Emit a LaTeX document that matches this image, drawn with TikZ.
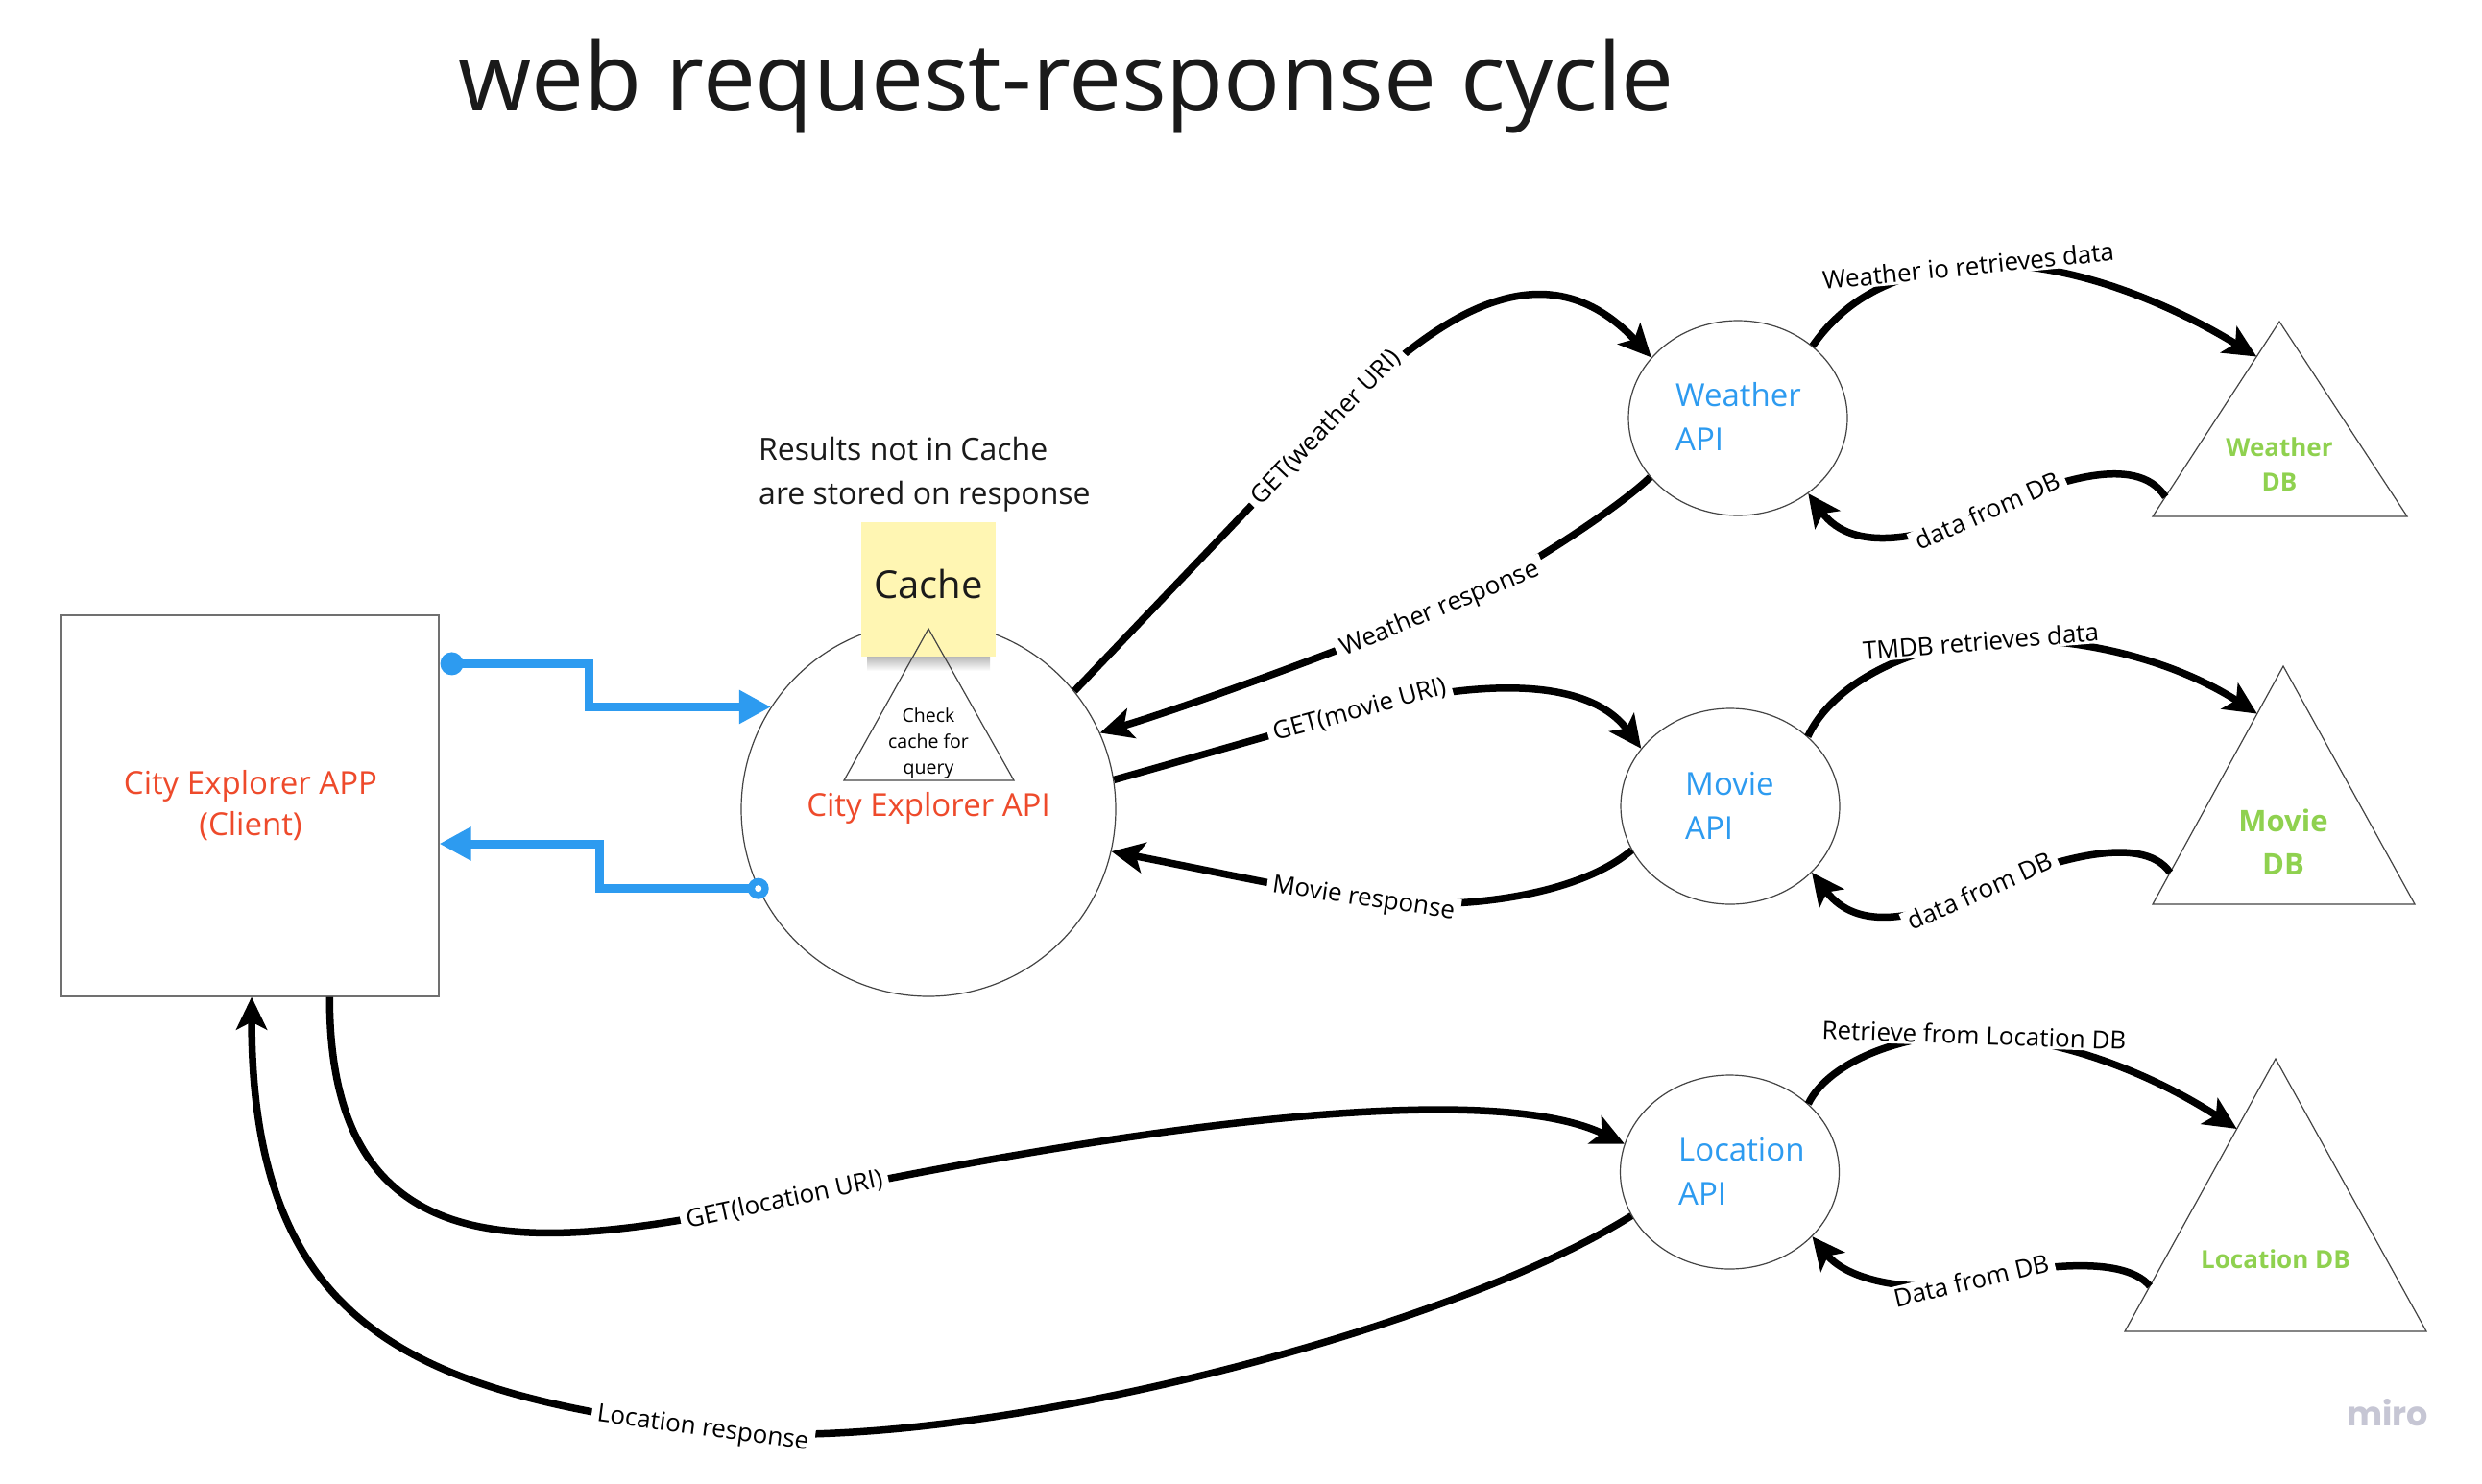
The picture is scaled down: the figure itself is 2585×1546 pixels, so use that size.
\documentclass[tikz,border=0pt]{standalone}
\usepackage{fontspec}
\setmainfont{Open Sans}
\newfontfamily\mirofont{Poppins}
\usetikzlibrary{arrows.meta,shapes.geometric,calc}
\definecolor{mblue}{HTML}{2D9BF0}
\definecolor{mred}{HTML}{EE4A2B}
\definecolor{mgreen}{HTML}{8FD14F}
\definecolor{stickyfill}{HTML}{FFF6B3}
\definecolor{titlegray}{HTML}{1A1A1A}
\definecolor{outline}{HTML}{444444}
\definecolor{rectline}{HTML}{707070}
\definecolor{mirogray}{HTML}{C6C6D4}
\newcommand{\myfs}[1]{\fontsize{#1pt}{#1pt}\selectfont}
\begin{document}
\begin{tikzpicture}[x=1pt,y=-1pt,
  conn/.style={line width=7.5pt, -{Stealth[length=34pt,width=32pt,inset=8pt]}},
  lbl/.style={fill=white, inner xsep=6pt, inner ysep=2pt, sloped, font=\myfs{26}, text=black},
  bluecon/.style={line width=9pt, mblue, -{Triangle[length=33pt,width=33pt]}},
  shapeline/.style={draw=outline, line width=1.2pt},
  txt/.style={inner sep=0pt},
  apitxt/.style={txt, anchor=base west, text=mblue, font=\myfs{33}},
  dbtxt/.style={txt, anchor=base, text=mgreen},
]
\fill[white] (0,0) rectangle (2585,1546);
\useasboundingbox (0,0) rectangle (2585,1546);

% title
\node[txt, anchor=base west, text=titlegray, font=\myfs{98}] (title) at (477,116) {web request-response cycle};

% client
\node[draw=rectline, line width=1.1pt, minimum width=393pt, minimum height=397pt, inner sep=0pt] (client) at (260.5,839.5) {};
\node[txt, anchor=base, text=mred, font=\myfs{33}] (clientT1) at (261,827) {City Explorer APP};
\node[txt, anchor=base, text=mred, font=\myfs{33}] (clientT2) at (261,870) {(Client)};

% City Explorer API
\node[circle, shapeline, minimum size=390pt, inner sep=0pt] (api) at (967,843) {};

% sticky note
\shade[top color=black!55, bottom color=white, opacity=0.5] (903,684) rectangle (1031,699);
\node[fill=stickyfill, minimum width=140pt, minimum height=140pt, inner sep=0pt] (cache) at (967,614) {};
\node[txt, anchor=base, font=\myfs{40}, text=titlegray] (cacheT) at (967,623) {Cache};

% check cache triangle
\coordinate (ckA) at (967,655);
\coordinate (ckL) at (879,813);
\coordinate (ckR) at (1056,813);
\draw[shapeline] (ckA) -- (ckR) -- (ckL) -- cycle;
\node[txt, anchor=base, font=\myfs{19.5}] (ck1) at (967,752) {Check};
\node[txt, anchor=base, font=\myfs{19.5}] (ck2) at (967,779) {cache for};
\node[txt, anchor=base, font=\myfs{19.5}] (ck3) at (967,806) {query};
\node[txt, anchor=base, text=mred, font=\myfs{33}] (apiT) at (967,850) {City Explorer API};

% note text
\node[txt, anchor=base west, font=\myfs{32}, text=titlegray] (res1) at (790,479) {Results not in Cache};
\node[txt, anchor=base west, font=\myfs{32}, text=titlegray] (res2) at (790,525) {are stored on response};

% API ellipses
\node[ellipse, shapeline, minimum width=228pt, minimum height=203pt, inner sep=0pt] (weather) at (1810,435.5) {};
\node[ellipse, shapeline, minimum width=228pt, minimum height=204pt, inner sep=0pt] (movie) at (1802,840) {};
\node[ellipse, shapeline, minimum width=228pt, minimum height=202pt, inner sep=0pt] (location) at (1801.5,1221) {};
\node[apitxt] (weatherT1) at (1745,423) {Weather};
\node[apitxt] (weatherT2) at (1745,469) {API};
\node[apitxt] (movieT1) at (1755,828) {Movie};
\node[apitxt] (movieT2) at (1755,874) {API};
\node[apitxt] (locationT1) at (1748,1209) {Location};
\node[apitxt] (locationT2) at (1748,1255) {API};

% DB triangles
\coordinate (wdbA) at (2374,335);
\coordinate (wdbL) at (2242,538);
\coordinate (wdbR) at (2507,538);
\coordinate (mdbA) at (2378,694);
\coordinate (mdbL) at (2242,942);
\coordinate (mdbR) at (2515,942);
\coordinate (ldbA) at (2370,1103);
\coordinate (ldbL) at (2213,1387);
\coordinate (ldbR) at (2527,1387);
\draw[shapeline] (wdbA) -- (wdbR) -- (wdbL) -- cycle;
\draw[shapeline] (mdbA) -- (mdbR) -- (mdbL) -- cycle;
\draw[shapeline] (ldbA) -- (ldbR) -- (ldbL) -- cycle;
\node[dbtxt, font=\myfs{26}\bfseries] (wdbT1) at (2374,475) {Weather};
\node[dbtxt, font=\myfs{26}\bfseries] (wdbT2) at (2374,511) {DB};
\node[dbtxt, font=\myfs{31}\bfseries] (mdbT1) at (2378,866) {Movie};
\node[dbtxt, font=\myfs{31}\bfseries] (mdbT2) at (2378,911) {DB};
\node[dbtxt, font=\myfs{26}\bfseries] (ldbT) at (2370,1321) {Location DB};

% miro
\node[txt, anchor=base west, text=mirogray, font=\mirofont\myfs{35}\bfseries] (miro) at (2444,1485) {miro};

% blue connectors
\coordinate (b1s) at ($(client.north east)+(13,51)$);
\draw[bluecon] (b1s) -| (613,714) |- (api.147.6);
\fill[mblue] (b1s) circle (12pt);
\coordinate (b2lvl) at (0,879);
\draw[bluecon] (api.205) -| (624,900) |- (client.east |- b2lvl);
\fill[mblue] (api.205) circle (11pt);
\fill[white] (api.205) circle (3.5pt);

% black connectors
\draw[conn] (api.39.2) .. controls (1178,658) and (1326,503) .. node[lbl,pos=1] {GET(weather URI)} (1381,445) .. controls (1498,322) and (1610,255) .. (weather.145.8);
\draw[conn] (weather.214.8) .. controls (1680,534) and (1565,608) .. node[lbl,pos=1] {Weather response} (1500,635) .. controls (1426,666) and (1250,732) .. (api.24);
\draw[conn] (api.9.6) .. controls (1240,790) and (1339,761) .. node[lbl,pos=1] {GET(movie URI)} (1416,740) .. controls (1522,711.5) and (1650,700) .. (movie.147.8);
\draw[conn] (movie.204.5) .. controls (1640,936) and (1509,950) .. node[lbl,pos=1] {Movie response} (1420,937) .. controls (1341,925) and (1250,905) .. (api.347.7);
\draw[conn] (weather.44) .. controls (1930,300) and (1990,283) .. node[lbl,pos=1] {Weather io retrieves data} (2050,277) .. controls (2140,268) and (2250,310) .. ($(wdbA)!0.18!(wdbL)$);
\draw[conn] ($(wdbA)!0.9!(wdbL)$) .. controls (2225,470) and (2134,503.5) .. node[lbl,pos=1] {data from DB} (2070,532) .. controls (2006,560.5) and (1930,578) .. (weather.313.3);
\draw[conn] (movie.42.4) .. controls (1910,710) and (1990,674) .. node[lbl,pos=1] {TMDB retrieves data} (2063,668) .. controls (2153,660) and (2260,685) .. ($(mdbA)!0.2!(mdbL)$);
\draw[conn] ($(mdbA)!0.867!(mdbL)$) .. controls (2230,865) and (2126,899.5) .. node[lbl,pos=1] {data from DB} (2062,928) .. controls (1998,956.5) and (1935,972) .. (movie.321);
\draw[conn] (location.41) .. controls (1905,1105) and (1986,1075.5) .. node[lbl,pos=1] {Retrieve from Location DB} (2056,1078) .. controls (2146,1081) and (2240,1118) .. ($(ldbA)!0.257!(ldbL)$);
\draw[conn] ($(ldbA)!0.834!(ldbL)$) .. controls (2210,1305) and (2111,1320.5) .. node[lbl,pos=1] {Data from DB} (2053,1334) .. controls (1994.6,1348) and (1925,1335) .. (location.322.5);
\draw[conn] ($(client.south west)!0.71!(client.south east)$) .. controls (343,1330) and (560,1305) .. node[lbl,pos=1] {GET(location URI)} (817,1250) .. controls (1013,1208) and (1520,1110) .. (location.165.8);
\draw[conn] (location.204.6) .. controls (1500,1392) and (980,1522) .. node[lbl,pos=1] {Location response} (732,1489) .. controls (440,1450) and (262,1390) .. ($(client.south west)!0.504!(client.south east)$);
\end{tikzpicture}
\end{document}
